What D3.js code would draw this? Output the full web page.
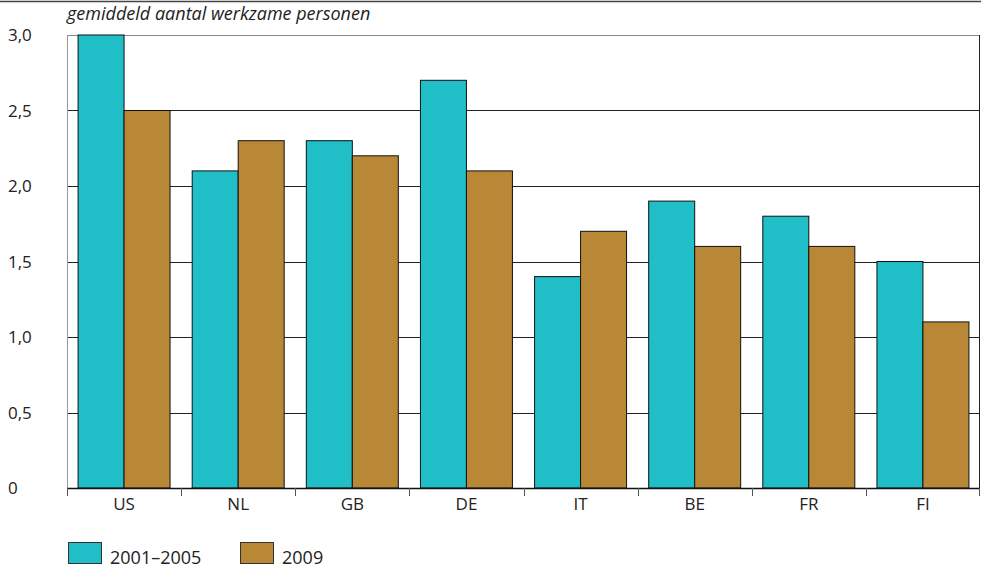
<!DOCTYPE html>
<html><head><meta charset="utf-8">
<script src="https://cdn.jsdelivr.net/npm/d3@7"></script>
<style>body{margin:0;background:#fff}svg{display:block;font-family:"Open Sans","Noto Sans",sans-serif}</style>
</head><body><svg id="c" width="981" height="569"></svg>
<script>
const categories = ["US","NL","GB","DE","IT","BE","FR","FI"];
const series1 = [3.0,2.1,2.3,2.7,1.4,1.9,1.8,1.5];
const series2 = [2.5,2.3,2.2,2.1,1.7,1.6,1.6,1.1];
const seriesNames = ["2001–2005","2009"];
const colors = ["#20BEC7","#B98836"];
const yTicks = [0,0.5,1.0,1.5,2.0,2.5,3.0];
const yLabels = ["0","0,5","1,0","1,5","2,0","2,5","3,0"];
const title = "gemiddeld aantal werkzame personen";

const svg = d3.select("#c");
const L=67,R=980,T=35,B=488;
const x = d3.scaleBand().domain(categories).range([L,R]).paddingInner(0.194).paddingOuter(0.097);
const x0 = d3.scaleBand().domain(categories).range([L,R]);
const xs = d3.scaleBand().domain([0,1]).range([0,x.bandwidth()]);
const y = d3.scaleLinear().domain([0,3]).range([B,T]);

// top rule
svg.append("line").attr("x1",0).attr("x2",981).attr("y1",1.5).attr("y2",1.5).attr("stroke","#444").attr("stroke-width",1.5);
svg.append("text").attr("x",67).attr("y",19.5).attr("font-style","italic").attr("font-size",18).attr("fill","#222").text(title);

// gridlines
svg.append("g").selectAll("line").data(yTicks.filter(d=>d>0)).join("line")
  .attr("x1",L).attr("x2",R).attr("y1",d=>Math.round(y(d))+0.5).attr("y2",d=>Math.round(y(d))+0.5)
  .attr("stroke",d=>d===3?"#888":"#222").attr("stroke-width",1);
// left & right borders
svg.append("line").attr("x1",L+0.5).attr("x2",L+0.5).attr("y1",T).attr("y2",B).attr("stroke","#999");
svg.append("line").attr("x1",R-0.5).attr("x2",R-0.5).attr("y1",T).attr("y2",B).attr("stroke","#222");

// y labels
svg.append("g").selectAll("text").data(yTicks).join("text")
  .attr("x",8).attr("y",d=>y(d)+6).attr("font-size",17).attr("fill","#222").text((d,i)=>yLabels[i]);

// bars
const data = categories.map((c,i)=>({c,v:[series1[i],series2[i]]}));
const g = svg.append("g");
data.forEach(d=>{
  d.v.forEach((v,j)=>{
    g.append("rect").attr("x",x(d.c)+xs(j)).attr("y",y(v)).attr("width",xs.bandwidth()).attr("height",B-y(v))
      .attr("fill",colors[j]).attr("stroke","#111").attr("stroke-width",1);
  });
});

// x axis
const ax = svg.append("g").attr("transform",`translate(0,${B})`)
  .call(d3.axisBottom(x0).tickSize(0).tickPadding(10));
ax.select(".domain").remove();
ax.selectAll("text").attr("font-size",17).attr("fill","#222").attr("font-family","Open Sans, Noto Sans, sans-serif");
svg.append("line").attr("x1",L).attr("x2",R).attr("y1",B+0.5).attr("y2",B+0.5).attr("stroke","#111").attr("stroke-width",1.5);
const bounds = categories.map(c=>x0(c)).concat([R]);
svg.append("g").selectAll("line").data(bounds).join("line")
  .attr("x1",d=>Math.min(Math.round(d),R-1)+0.5).attr("x2",d=>Math.min(Math.round(d),R-1)+0.5)
  .attr("y1",B).attr("y2",B+8).attr("stroke","#555").attr("stroke-width",1);

// legend
const lg = svg.append("g");
seriesNames.forEach((n,i)=>{
  const lx = 68 + i*172;
  lg.append("rect").attr("x",lx+0.5).attr("y",542.5).attr("width",33).attr("height",21).attr("fill",colors[i]).attr("stroke","#333");
  lg.append("text").attr("x",lx+42).attr("y",564).attr("font-size",18).attr("fill","#222").text(n);
});
</script></body></html>
